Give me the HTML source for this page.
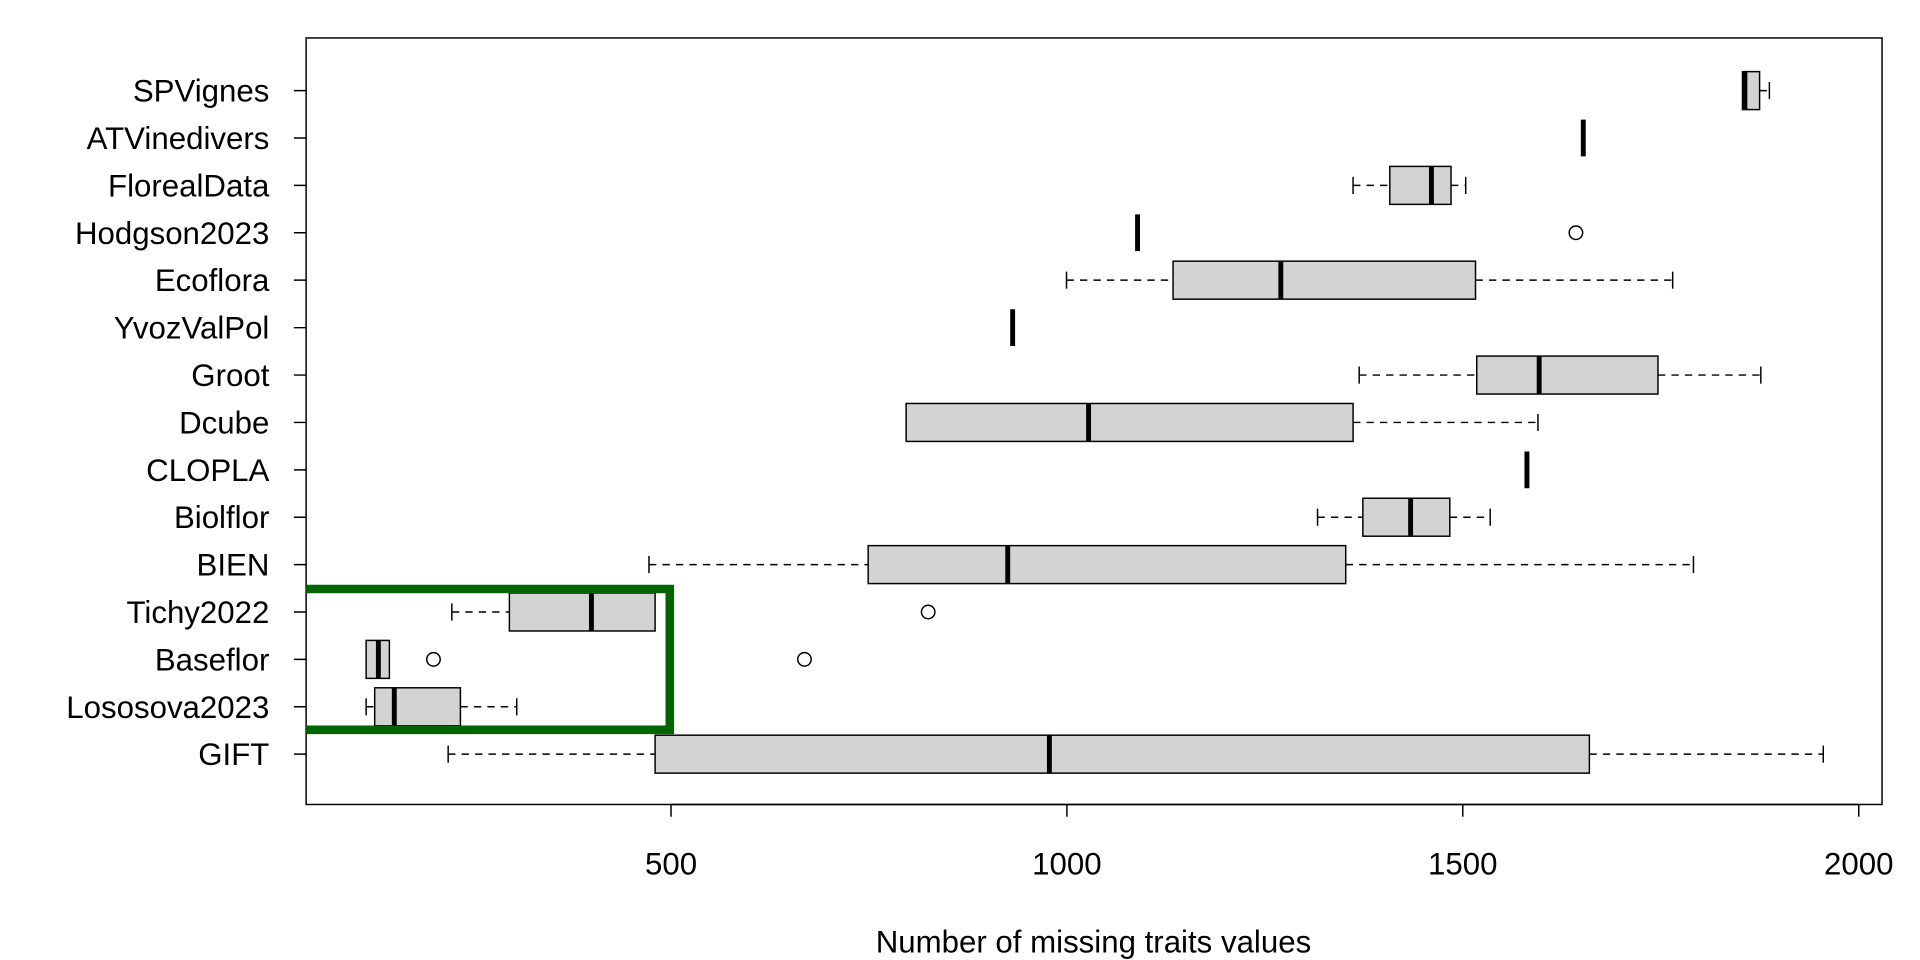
<!DOCTYPE html>
<html><head><style>body{margin:0;background:#fff}svg{display:block}</style></head><body>
<svg width="1920" height="960" viewBox="0 0 1568 784" xmlns="http://www.w3.org/2000/svg" font-family="Liberation Sans, sans-serif">
<rect width="1568" height="784" fill="#fff"/>
<g font-size="25.5" text-anchor="end" fill="#000">
<text x="220" y="83">SPVignes</text>
<text x="220" y="121.7">ATVinedivers</text>
<text x="220" y="160.4">FlorealData</text>
<text x="220" y="199.1">Hodgson2023</text>
<text x="220" y="237.8">Ecoflora</text>
<text x="220" y="276.6">YvozValPol</text>
<text x="220" y="315.3">Groot</text>
<text x="220" y="354">Dcube</text>
<text x="220" y="392.7">CLOPLA</text>
<text x="220" y="431.4">Biolflor</text>
<text x="220" y="470.1">BIEN</text>
<text x="220" y="508.8">Tichy2022</text>
<text x="220" y="547.5">Baseflor</text>
<text x="220" y="586.2">Lososova2023</text>
<text x="220" y="624.9">GIFT</text>
</g>
<g font-size="25.5" text-anchor="middle" fill="#000">
<text x="548" y="714">500</text>
<text x="871.3" y="714">1000</text>
<text x="1194.6" y="714">1500</text>
<text x="1518" y="714">2000</text>
<text x="893" y="778">Number of missing traits values</text>
</g>
<g stroke="#000" stroke-width="1.2" fill="none">
<path d="M240 74H250M240 112.7H250M240 151.4H250M240 190.1H250M240 228.8H250M240 267.6H250M240 306.3H250M240 345H250M240 383.7H250M240 422.4H250M240 461.1H250M240 499.8H250M240 538.5H250M240 577.2H250M240 615.9H250"/>
<path d="M548 657V667M871.3 657V667M1194.6 657V667M1518 657V667M548 657H1518"/>
<path d="M1445 67V81M1105 144.4V158.4M1197 144.4V158.4M871 221.8V235.8M1366 221.8V235.8M1110 299.3V313.3M1438 299.3V313.3M1256 338V352M1076 415.4V429.4M1217 415.4V429.4M530 454.1V468.1M1383 454.1V468.1M369 492.8V506.8M299 570.2V584.2M422 570.2V584.2M366 608.9V622.9M1489 608.9V622.9"/>
<path stroke-dasharray="6,5" d="M1437 74H1445M1105 151.4H1135M1185 151.4H1197M871 228.8H958M1205 228.8H1366M1110 306.3H1206M1354 306.3H1438M1105 345H1256M1076 422.4H1113M1184 422.4H1217M530 461.1H709M1099 461.1H1383M369 499.8H416M299 577.2H306M376 577.2H422M366 615.9H535M1298 615.9H1489"/>
<g fill="#d3d3d3">
<rect x="1423" y="58.5" width="14" height="31"/>
<rect x="1135" y="135.9" width="50" height="31"/>
<rect x="958" y="213.3" width="247" height="31"/>
<rect x="1206" y="290.8" width="148" height="31"/>
<rect x="740" y="329.5" width="365" height="31"/>
<rect x="1113" y="406.9" width="71" height="31"/>
<rect x="709" y="445.6" width="390" height="31"/>
<rect x="416" y="484.3" width="119" height="31"/>
<rect x="299" y="523" width="19" height="31"/>
<rect x="306" y="561.7" width="70" height="31"/>
<rect x="535" y="600.4" width="763" height="31"/>
</g>
<g stroke-width="4">
<path d="M1425 58.5V89.5M1293 97.7V127.7M1169 135.9V166.9M929 175.1V205.1M1046 213.3V244.3M827 252.6V282.6M1257 290.8V321.8M889 329.5V360.5M1247 368.7V398.7M1152 406.9V437.9M823 445.6V476.6M483 484.3V515.3M309 523V554M322 561.7V592.7M857 600.4V631.4"/>
</g>
<circle cx="1287" cy="190.1" r="5.5"/>
<circle cx="758" cy="499.8" r="5.5"/>
<circle cx="354" cy="538.5" r="5.5"/>
<circle cx="657" cy="538.5" r="5.5"/>
<rect x="250" y="31" width="1287" height="626"/>
</g>
<polyline points="250,481 547,481 547,596 250,596" fill="none" stroke="#006400" stroke-width="7"/>
</svg>
</body></html>
